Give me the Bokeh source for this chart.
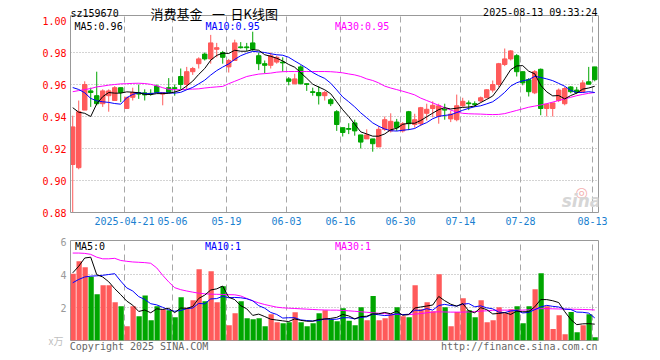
from bokeh.plotting import figure
from bokeh.models import (Range1d, FixedTicker, Label, Grid, ColumnDataSource, Span,
                          LinearAxis)
from bokeh.layouts import column
from bokeh.embed import file_html
from bokeh.resources import INLINE

dates = ["04-08","04-09","04-10","04-11","04-14","04-15","04-16","04-17","04-18","04-21",
         "04-22","04-23","04-24","04-25","04-28","04-29","04-30","05-06","05-07","05-08",
         "05-09","05-12","05-13","05-14","05-15","05-16","05-19","05-20","05-21","05-22",
         "05-23","05-26","05-27","05-28","05-29","05-30","06-03","06-04","06-05","06-06",
         "06-09","06-10","06-11","06-12","06-13","06-16","06-17","06-18","06-19","06-20",
         "06-23","06-24","06-25","06-26","06-27","06-30","07-01","07-02","07-03","07-04",
         "07-07","07-08","07-09","07-10","07-11","07-14","07-15","07-16","07-17","07-18",
         "07-21","07-22","07-23","07-24","07-25","07-28","07-29","07-30","07-31","08-01",
         "08-04","08-05","08-06","08-07","08-08","08-11","08-12","08-13"]

tick_dates = ["04-21","05-06","05-19","06-03","06-16","06-30","07-14","07-28","08-13"]
tick_labels = ["2025-04-21","05-06","05-19","06-03","06-16","06-30","07-14","07-28","08-13"]

opens = [0.910,0.908,0.944,0.956,0.953,0.948,0.953,0.950,0.958,0.945,
         0.952,0.955,0.9548,0.9545,0.959,0.954,0.958,0.958,0.965,0.960,
         0.968,0.973,0.979,0.976,0.982,0.980,0.971,0.975,0.9835,0.9835,
         0.986,0.978,0.973,0.972,0.974,0.974,0.9635,0.9605,0.971,0.9605,
         0.9555,0.955,0.953,0.9505,0.943,0.933,0.9325,0.936,0.9285,0.926,
         0.926,0.921,0.932,0.931,0.9365,0.931,0.943,0.935,0.9355,0.942,
         0.945,0.940,0.9445,0.9385,0.938,0.9467,0.9485,0.948,0.9497,0.9517,
         0.9565,0.960,0.9725,0.976,0.978,0.968,0.963,0.9548,0.9695,0.945,
         0.945,0.950,0.948,0.9585,0.9565,0.9555,0.9617,0.971]
highs = [0.9405,0.950,0.962,0.958,0.968,0.957,0.957,0.959,0.958,0.952,
         0.958,0.960,0.957,0.957,0.960,0.955,0.964,0.960,0.970,0.971,
         0.971,0.977,0.980,0.991,0.986,0.981,0.976,0.988,0.9865,0.986,
         0.993,0.980,0.975,0.980,0.978,0.977,0.9646,0.9667,0.972,0.9605,
         0.958,0.959,0.956,0.9515,0.944,0.933,0.9358,0.938,0.9285,0.932,
         0.926,0.934,0.940,0.942,0.9385,0.9365,0.9435,0.9417,0.946,0.948,
         0.9495,0.948,0.948,0.9435,0.9537,0.9517,0.950,0.9495,0.9525,0.957,
         0.9625,0.9735,0.9825,0.9815,0.979,0.968,0.964,0.969,0.970,0.948,
         0.9485,0.9575,0.9585,0.959,0.9585,0.9627,0.971,0.971]
lows = [0.879,0.907,0.944,0.946,0.947,0.946,0.943,0.950,0.949,0.945,
        0.950,0.951,0.950,0.953,0.955,0.947,0.955,0.953,0.957,0.957,
        0.966,0.970,0.975,0.973,0.977,0.973,0.9675,0.975,0.9825,0.981,
        0.981,0.969,0.967,0.970,0.973,0.968,0.9595,0.960,0.960,0.956,
        0.953,0.9475,0.950,0.9465,0.931,0.9275,0.929,0.928,0.920,0.926,
        0.918,0.921,0.931,0.930,0.931,0.930,0.9315,0.933,0.934,0.9375,
        0.9395,0.9355,0.938,0.9365,0.937,0.946,0.944,0.946,0.949,0.9515,
        0.955,0.9585,0.9715,0.975,0.965,0.9595,0.9525,0.954,0.9408,0.940,
        0.940,0.949,0.947,0.9545,0.954,0.955,0.960,0.962]
closes = [0.9335,0.943,0.960,0.955,0.948,0.956,0.956,0.958,0.955,0.952,
          0.955,0.954,0.9535,0.954,0.955,0.955,0.955,0.9575,0.960,0.968,
          0.970,0.976,0.976,0.986,0.983,0.977,0.975,0.986,0.983,0.983,
          0.982,0.973,0.972,0.978,0.977,0.9735,0.962,0.9635,0.9605,0.960,
          0.955,0.953,0.955,0.948,0.935,0.930,0.932,0.931,0.924,0.9285,
          0.923,0.932,0.938,0.937,0.933,0.9355,0.9355,0.938,0.9455,0.9445,
          0.947,0.9467,0.944,0.9415,0.9467,0.9495,0.948,0.9475,0.9517,0.9567,
          0.960,0.973,0.976,0.981,0.968,0.961,0.9555,0.968,0.945,0.9477,
          0.9485,0.9565,0.9575,0.9555,0.955,0.961,0.9602,0.963]

ma5 = [0.9455,0.9427,0.942,0.940,0.9479,0.9524,0.955,0.9546,0.9546,0.9554,
       0.9552,0.9548,0.9539,0.9537,0.9543,0.9543,0.9545,0.9553,0.9565,0.9591,
       0.9621,0.9663,0.970,0.9752,0.9782,0.9796,0.9794,0.9814,0.9808,0.9808,
       0.9818,0.9814,0.9786,0.9776,0.9764,0.9747,0.9725,0.9708,0.9673,0.9639,
       0.9602,0.9584,0.9567,0.9542,0.9492,0.9442,0.940,0.9352,0.9304,0.9291,
       0.9277,0.9277,0.9291,0.9317,0.9326,0.9351,0.9358,0.9358,0.9375,0.9398,
       0.9421,0.9443,0.9455,0.9447,0.9452,0.9457,0.9459,0.9466,0.9487,0.9507,
       0.9528,0.9578,0.9635,0.9693,0.9716,0.9718,0.9683,0.9667,0.9595,0.9554,
       0.9529,0.9531,0.951,0.9531,0.9546,0.9571,0.9578,0.9589]
ma10 = [0.9581,0.9569,0.9548,0.9513,0.9498,0.9492,0.9488,0.9481,0.9477,0.9517,
        0.9538,0.9549,0.9543,0.9542,0.9549,0.9548,0.9547,0.9546,0.9551,0.9567,
        0.9582,0.9604,0.9627,0.9659,0.9687,0.9709,0.9729,0.9757,0.978,0.9795,
        0.9807,0.9804,0.980,0.9792,0.9786,0.9783,0.977,0.9747,0.9725,0.9702,
        0.9675,0.9655,0.9638,0.9608,0.9566,0.9522,0.9492,0.946,0.9423,0.9392,
        0.936,0.9339,0.9322,0.9311,0.9309,0.9314,0.9318,0.9325,0.9346,0.9362,
        0.9386,0.9401,0.9407,0.9411,0.9425,0.9439,0.9451,0.9461,0.9467,0.9479,
        0.9492,0.9519,0.9551,0.959,0.9611,0.9623,0.963,0.9651,0.9644,0.9635,
        0.9624,0.9607,0.9589,0.9563,0.955,0.955,0.9555,0.955]
ma30 = [0.9555,0.9562,0.9568,0.9575,0.9585,0.959,0.9596,0.960,0.9604,0.9605,
        0.9607,0.9608,0.9606,0.9601,0.9592,0.958,0.957,0.9567,0.9568,0.957,
        0.9571,0.9573,0.9578,0.9582,0.9585,0.9588,0.9605,0.962,0.9635,0.965,
        0.9658,0.9665,0.9668,0.9671,0.9677,0.968,0.9681,0.9681,0.9681,0.9681,
        0.9681,0.9681,0.9681,0.968,0.9677,0.9673,0.9666,0.966,0.965,0.9635,
        0.9625,0.961,0.959,0.9578,0.9568,0.9558,0.9547,0.9535,0.9515,0.950,
        0.9485,0.947,0.9455,0.944,0.9428,0.942,0.9417,0.9416,0.9415,0.9413,
        0.9412,0.9413,0.9418,0.9428,0.9438,0.9448,0.9458,0.9465,0.9472,0.948,
        0.949,0.950,0.951,0.952,0.953,0.9538,0.9545,0.955]

volumes = [4.04,4.81,4.44,3.86,2.81,3.35,3.35,2.32,2.08,0.87,
           2.08,1.47,2.73,1.23,2.08,1.88,1.84,1.41,2.62,1.98,
           2.44,4.32,2.38,4.20,2.32,3.29,0.93,1.65,2.38,1.35,
           1.29,1.35,0.87,1.59,1.11,1.05,1.11,1.71,1.11,0.87,
           1.05,1.65,1.84,1.29,1.17,1.96,1.19,0.93,2.02,1.23,
           2.69,1.23,1.35,1.59,2.02,1.47,1.41,3.35,1.90,2.32,
           1.78,4.02,2.02,0.87,1.72,2.56,1.84,1.41,2.44,1.11,
           1.23,2.02,1.65,1.90,2.08,1.05,2.08,3.11,4.08,2.08,
           0.69,1.53,0.38,1.72,0.50,0.93,1.59,0.20]
vma5 = [4.1,4.5,5.0,5.05,3.99,3.85,3.56,3.14,2.78,2.39,
        2.14,1.76,1.85,1.68,1.92,1.88,1.95,1.69,1.97,1.95,
        2.06,2.55,2.75,3.06,3.13,3.30,2.62,2.48,2.11,1.92,
        1.52,1.60,1.45,1.29,1.24,1.19,1.15,1.31,1.22,1.17,
        1.17,1.28,1.30,1.34,1.40,1.58,1.49,1.31,1.45,1.47,
        1.61,1.62,1.70,1.62,1.78,1.53,1.57,1.97,2.03,2.09,
        2.15,2.67,2.41,2.20,2.08,2.24,1.80,1.68,1.99,1.87,
        1.61,1.64,1.69,1.58,1.78,1.74,1.75,2.04,2.48,2.48,
        2.41,2.30,1.75,1.28,0.96,1.01,1.02,0.99]
vma10 = [3.5,3.7,3.85,3.9,3.92,3.95,4.0,4.05,3.6,3.19,
         3.00,2.66,2.49,2.23,2.16,2.01,1.86,1.77,1.82,1.93,
         1.97,2.25,2.22,2.52,2.54,2.68,2.59,2.61,2.59,2.53,
         2.41,2.11,1.96,1.70,1.58,1.36,1.38,1.38,1.25,1.21,
         1.18,1.21,1.31,1.28,1.29,1.38,1.38,1.31,1.40,1.43,
         1.60,1.56,1.51,1.54,1.62,1.57,1.59,1.84,1.82,1.93,
         1.84,2.12,2.19,2.12,2.09,2.20,2.24,2.04,2.10,1.98,
         1.92,1.72,1.69,1.79,1.82,1.67,1.70,1.87,2.03,2.13,
         2.07,2.03,1.90,1.88,1.72,1.71,1.66,1.37]
vma30 = [5.3,5.3,5.28,5.22,5.05,4.95,4.95,4.98,4.85,4.8,
         4.76,4.74,4.72,4.68,4.4,3.95,3.55,3.2,3.08,3.0,
         2.93,2.87,2.83,2.81,2.8,2.79,2.78,2.77,2.7,2.55,
         2.4,2.28,2.18,2.1,2.02,1.98,1.96,1.94,1.92,1.9,
         1.88,1.86,1.85,1.84,1.84,1.82,1.8,1.77,1.74,1.71,
         1.68,1.65,1.63,1.6,1.58,1.57,1.57,1.6,1.63,1.68,
         1.72,1.74,1.73,1.72,1.72,1.72,1.73,1.75,1.78,1.8,
         1.83,1.84,1.84,1.84,1.84,1.84,1.86,1.9,1.93,1.93,
         1.92,1.91,1.9,1.9,1.89,1.88,1.87,1.85]

price_ticks = [0.88, 0.90, 0.92, 0.94, 0.96, 0.98, 1.00]
price_grid = [0.90, 0.92, 0.94, 0.96, 0.98]
vol_ticks = [2, 4, 6]
vol_grid = [2, 4]

RED = "#ff5a5a"
GREEN = "#00a600"
BORDER = "#999999"
GRIDC = "#a8a8a8"
MONO = "DejaVu Sans Mono"

n = len(dates)
idx = list(range(n))
xc = [i + 0.37 for i in idx]
xv = [i + 0.44 for i in idx]
colors = [RED if c >= o else GREEN for o, c in zip(opens, closes)]
src = ColumnDataSource(dict(
    xc=xc, xv=xv, o=opens, h=highs, l=lows, c=closes,
    top=[max(o, c) for o, c in zip(opens, closes)],
    bot=[min(o, c) for o, c in zip(opens, closes)],
    col=colors, vol=volumes, ma5=ma5, ma10=ma10, ma30=ma30,
    vma5=vma5, vma10=vma10, vma30=vma30))

tick_pos = [dates.index(d) for d in tick_dates]

PX_PRICE = 1600.0     # px per 1.0 price
PX_VOL = 16.5         # px per 1 unit volume
p_lo = 0.88
p_top = p_lo + 197 / PX_PRICE      # top edge of price box
p_hi = p_lo + 212 / PX_PRICE       # frame extends up into the header strip

xr = Range1d(0, n)
p1 = figure(width=660, height=232, x_range=xr, y_range=Range1d(p_lo, p_hi),
            output_backend="svg", toolbar_location=None,
            min_border_left=70, min_border_right=62, min_border_top=0, min_border_bottom=20)
p2 = figure(width=660, height=128, x_range=xr, y_range=Range1d(0, 100 / PX_VOL),
            output_backend="svg", toolbar_location=None,
            min_border_left=70, min_border_right=62, min_border_top=8, min_border_bottom=20)

for p in (p1, p2):
    p.title.visible = False
    p.background_fill_color = "white"
    p.border_fill_color = "white"
    p.grid.visible = False
    for ax in (p.xaxis, p.yaxis):
        ax.major_tick_line_color = None
        ax.minor_tick_line_color = None
        ax.major_tick_out = 0
        ax.major_tick_in = 0
        ax.minor_tick_out = 0
        ax.minor_tick_in = 0
    p.yaxis.major_label_standoff = 4
    p.yaxis.major_label_text_font = MONO
    p.yaxis.major_label_text_font_size = "10px"

# ---- price panel: box drawn by axis lines + span
p1.outline_line_color = None
p1.yaxis.ticker = FixedTicker(ticks=price_ticks)
p1.yaxis.major_label_overrides = {t: "%.2f" % t for t in price_ticks}
p1.yaxis.major_label_text_color = "#ff0000"
p1.yaxis.axis_line_color = BORDER
p1.yaxis.bounds = (p_lo, p_top)
p1.xaxis.ticker = FixedTicker(ticks=tick_pos)
p1.xaxis.major_label_overrides = {t: lab for t, lab in zip(tick_pos, tick_labels)}
p1.xaxis.axis_line_color = BORDER
p1.xaxis.major_label_standoff = 4
p1.xaxis.major_label_text_font = MONO
p1.xaxis.major_label_text_font_size = "10px"
p1.xaxis.major_label_text_color = "#1a7fd0"
rax = LinearAxis(bounds=(p_lo, p_top), ticker=FixedTicker(ticks=price_ticks),
                 axis_line_color=BORDER, major_tick_line_color=None,
                 minor_tick_line_color=None, major_tick_out=0, major_tick_in=0,
                 major_label_text_color=None, major_label_text_font_size="1px")
p1.add_layout(rax, "right")
p1.add_layout(Span(location=p_top, dimension="width", line_color=BORDER, line_width=1))
p1.add_layout(Grid(dimension=1, ticker=FixedTicker(ticks=price_grid),
                   grid_line_color=GRIDC, grid_line_dash="1 2", grid_line_width=1))
p1.segment(x0=tick_pos, y0=[p_lo] * len(tick_pos), x1=tick_pos, y1=[p_top] * len(tick_pos),
           line_color=GRIDC, line_dash="6 4", line_width=1)

# ---- volume panel
p2.outline_line_color = BORDER
p2.yaxis.axis_line_color = None
p2.yaxis.ticker = FixedTicker(ticks=vol_ticks)
p2.yaxis.major_label_text_color = "#999999"
p2.add_layout(Grid(dimension=0, ticker=FixedTicker(ticks=tick_pos),
                   grid_line_color=GRIDC, grid_line_dash="6 4", grid_line_width=1))
p2.add_layout(Grid(dimension=1, ticker=FixedTicker(ticks=vol_grid),
                   grid_line_color=GRIDC, grid_line_dash="1 2", grid_line_width=1))
unit_ax = LinearAxis(ticker=FixedTicker(ticks=[0]), major_label_overrides={0: "x万"},
                     axis_line_color=None, major_tick_line_color=None,
                     minor_tick_line_color=None, major_tick_out=0, major_tick_in=0,
                     major_label_standoff=-6,
                     major_label_text_color="#c0c0c0",
                     major_label_text_font="Noto Sans CJK SC",
                     major_label_text_font_size="10px")
p2.add_layout(unit_ax, "left")
foot_pos = [11.42, 74.8]
foot_text = ["Copyright 2025 SINA.COM", "http://finance.sina.com.cn"]
p2.xaxis.ticker = FixedTicker(ticks=foot_pos)
p2.xaxis.major_label_overrides = {t: s for t, s in zip(foot_pos, foot_text)}
p2.xaxis.axis_line_color = None
p2.xaxis.major_label_standoff = 0
p2.xaxis.major_label_text_font = MONO
p2.xaxis.major_label_text_font_size = "10px"
p2.xaxis.major_label_text_color = "#666666"

# candles
p1.segment(x0="xc", y0="l", x1="xc", y1="h", color="col", line_width=1, source=src)
p1.vbar(x="xc", width=0.74, top="top", bottom="bot", fill_color="col", line_color="col",
        line_width=1, source=src)
p1.line(x="xc", y="ma30", color="#ff00ff", line_width=1, source=src)
p1.line(x="xc", y="ma10", color="#0000ff", line_width=1, source=src)
p1.line(x="xc", y="ma5", color="#000000", line_width=1, source=src)

# volume
p2.vbar(x="xv", width=0.88, top="vol", bottom=0, fill_color="col", line_color=None, source=src)
p2.line(x="xc", y="vma30", color="#ff00ff", line_width=1, source=src)
p2.line(x="xc", y="vma10", color="#0000ff", line_width=1, source=src)
p2.line(x="xc", y="vma5", color="#000000", line_width=1, source=src)

def lab(p, x, y, text, color="#000000", align="left", font=MONO, size="10px", style="normal"):
    p.add_layout(Label(x=x, y=y, x_units="screen", y_units="screen", text=text,
                       text_color=color, text_align=align, text_baseline="middle",
                       text_font=font, text_font_size=size, text_font_style=style))

lab(p1, 0, 199, "sz159670")
lab(p1, 80, 199.3, "消费基金", font="Noto Sans CJK SC", size="13px")
lab(p1, 148, 199.3, "一", font="Noto Sans CJK SC", size="13px", align="center")
lab(p1, 160, 199.3, "日K线图", font="Noto Sans CJK SC", size="13px")
lab(p1, 527, 199.7, "2025-08-13 09:33:24", align="right")
lab(p1, 4, 186, "MA5:0.96")
lab(p1, 135, 186, "MA10:0.95", color="#0000ff")
lab(p1, 264.5, 186, "MA30:0.95", color="#ff00ff")
lab(p1, 511, 21, "\u25ce", color="#f4b0b0", align="center", font="DejaVu Sans", size="14px")
lab(p1, 511, 12, "sina", color="#d6d6d6", align="center", font="DejaVu Sans", size="17px",
    style="bold italic")

lab(p2, 4.5, 94, "MA5:0")
lab(p2, 134.5, 94, "MA10:1", color="#0000ff")
lab(p2, 264.5, 94, "MA30:1", color="#ff00ff")

layout = column(p1, p2, spacing=0)
open("out.html", "w").write(file_html(layout, INLINE))
